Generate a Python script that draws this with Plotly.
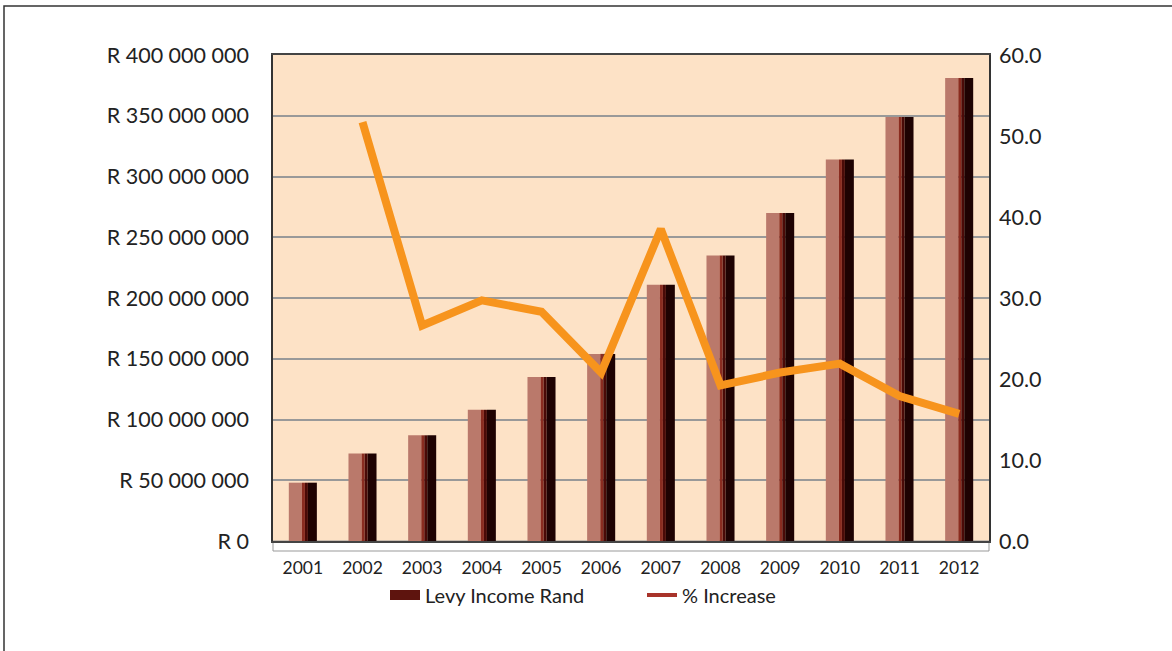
import plotly.graph_objects as go

years = ["2001", "2002", "2003", "2004", "2005", "2006", "2007", "2008", "2009", "2010", "2011", "2012"]
levy_income = [48e6, 72e6, 87e6, 108e6, 135e6, 154e6, 211e6, 235e6, 270e6, 314e6, 349e6, 381e6]
pct_increase = [None, 51.7, 26.6, 29.7, 28.3, 20.8, 38.5, 19.2, 20.8, 21.9, 17.9, 15.7]

left_tickvals = [0, 50e6, 100e6, 150e6, 200e6, 250e6, 300e6, 350e6, 400e6]
left_ticktext = ["R 0", "R 50 000 000", "R 100 000 000", "R 150 000 000", "R 200 000 000",
                 "R 250 000 000", "R 300 000 000", "R 350 000 000", "R 400 000 000"]

FONT = "Lato"
W, H = 1172, 651
# plot area in screen pixels
PX_L, PX_R, PX_T, PX_B = 273, 989, 55, 541
L, R, T, B = PX_L, W - PX_R, PX_T, H - PX_B

fig = go.Figure()

# bar drawn as vertical shading segments to imitate the gradient
segments = [
    (-0.235, 0.22, "#BA796B"),
    (-0.015, 0.05, "#8A2C20"),
    (0.035, 0.05, "#4A0A07"),
    (0.085, 0.15, "#1E0202"),
]
for off, wid, col in segments:
    fig.add_trace(go.Bar(
        x=years, y=levy_income, offset=off, width=wid,
        marker=dict(color=col, line=dict(width=0)),
        showlegend=False, hoverinfo="skip",
    ))

fig.add_trace(go.Scatter(
    x=years, y=pct_increase, yaxis="y2", mode="lines",
    line=dict(color="#F7941D", width=8),
    showlegend=False,
))

# legend entries
fig.add_trace(go.Scatter(x=[years[0]], y=[None], name="Levy Income Rand", mode="lines",
                         line=dict(color="#5E140E", width=15)))
fig.add_trace(go.Scatter(x=[years[0]], y=[None], yaxis="y2", mode="lines",
                         name="% Increase", line=dict(color="#A8332A", width=4)))

px_to_paper_x = lambda p: (p - PX_L) / (PX_R - PX_L)
px_to_paper_y = lambda p: (PX_B - p) / (PX_B - PX_T)

fig.update_layout(
    width=W, height=H,
    margin=dict(l=L, r=R, t=T, b=B),
    paper_bgcolor="white",
    plot_bgcolor="#FDE2C6",
    barmode="overlay",
    font=dict(family=FONT, size=21.5, color="#222"),
    xaxis=dict(
        type="category", showgrid=False, showline=True, mirror=True,
        linecolor="#444", linewidth=1.5, ticks="", tickfont=dict(size=17.5),
        ticklabelstandoff=10,
    ),
    yaxis=dict(
        range=[0, 400e6], tickvals=left_tickvals, ticktext=left_ticktext,
        showgrid=True, gridcolor="#999", gridwidth=1.5,
        showline=True, linecolor="#333", linewidth=1.5, mirror=True,
        zeroline=False, ticklabelstandoff=18,
    ),
    yaxis2=dict(
        range=[0, 60], dtick=10, tickformat=".1f", overlaying="y", side="right",
        showgrid=False, zeroline=False, showline=False, ticklabelstandoff=9,
    ),
    legend=dict(
        orientation="h", x=px_to_paper_x(385), xanchor="left",
        y=px_to_paper_y(595), yanchor="middle",
        font=dict(size=20), bgcolor="rgba(0,0,0,0)",
        traceorder="normal", entrywidth=212,
    ),
    shapes=[
        dict(type="rect", xref="paper", yref="paper",
             x0=px_to_paper_x(4), x1=px_to_paper_x(1300),
             y0=px_to_paper_y(800), y1=px_to_paper_y(6),
             line=dict(color="#333", width=1.5), fillcolor="rgba(0,0,0,0)", layer="below"),
        dict(type="rect", xref="paper", yref="paper",
             x0=0, x1=1, y0=px_to_paper_y(551), y1=0,
             line=dict(color="#999", width=1), fillcolor="white", layer="below"),
    ],
)

fig.write_html("out.html", config={"displayModeBar": False},
               post_script="document.body.style.margin='0px';")
